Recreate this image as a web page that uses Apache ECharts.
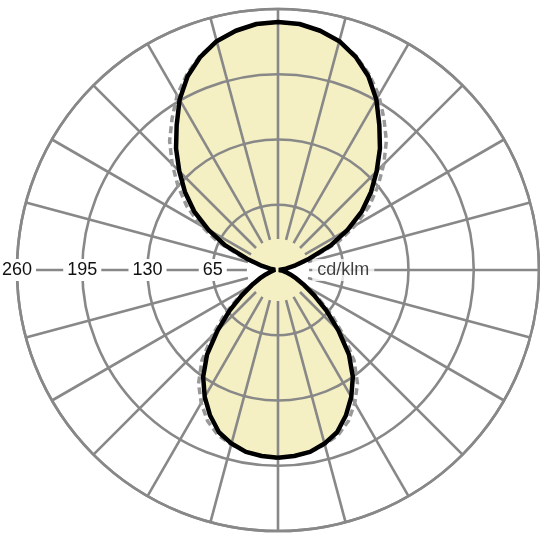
<!DOCTYPE html>
<html>
<head>
<meta charset="utf-8">
<script src="https://cdn.jsdelivr.net/npm/echarts@6/dist/echarts.min.js"></script>
<style>
  html, body { margin: 0; padding: 0; background: #fff; }
  #chart { width: 540px; height: 540px; }
</style>
</head>
<body>
<div id="chart"></div>
<script>
// gamma angles 0..180 step 5 (0 = straight down, 180 = straight up)
const gammas = [0, 5, 10, 15, 20, 25, 30, 35, 40, 45, 50, 55, 60, 65, 70, 75, 80, 85, 90,
  95, 100, 105, 110, 115, 120, 125, 130, 135, 140, 145, 150, 155, 160, 165, 170, 175, 180];

// C0-C180 plane, cd/klm
const c0 = [187, 186, 184, 179, 172, 160, 146, 130, 110, 85, 63, 44, 30, 20, 13, 8, 5, 3, 1,
  3, 8, 18, 33, 58, 80, 102, 121, 139, 158, 176, 196, 213, 226, 236, 242, 246, 247];

// C90-C270 plane, cd/klm
const c90 = [187, 186, 184, 180, 175, 166, 153, 138, 118, 93, 70, 49, 33, 22, 14, 8, 5, 3, 1,
  3, 8, 20, 38, 66, 89, 111, 130, 149, 168, 184, 201, 215, 227, 236, 242, 246, 247];

// radial grid
const radiusTicks = [0, 65, 130, 195, 260];
const spokeAngles = [0, 15, 30, 45, 60, 75, 90, 105, 120, 135, 150, 165,
  180, 195, 210, 225, 240, 255, 270, 285, 300, 315, 330, 345];
const spokeFrom = 31;
const unitLabel = 'cd/klm';

const grey = '#888888';
const font = 'Liberation Sans, Arial, sans-serif';

// angle axis starts at the left and runs clockwise: 90 = up, 270 = down
const toPath = (vals) => {
  const right = gammas.map((g, i) => [vals[i], 270 - g]);
  const left = gammas.map((g, i) => [vals[i], (270 + g) % 360]).reverse();
  return right.concat(left);
};

const spokes = spokeAngles.map((a) => ({
  type: 'line',
  coordinateSystem: 'polar',
  z: 0,
  silent: true,
  symbol: 'none',
  lineStyle: { color: grey, width: 2.6 },
  data: [[spokeFrom, a], [radiusTicks[radiusTicks.length - 1], a]]
}));

const chart = echarts.init(document.getElementById('chart'));
chart.setOption({
  animation: false,
  polar: { center: [278, 270], radius: 261 },
  angleAxis: {
    type: 'value', min: 0, max: 360, startAngle: 180, clockwise: true, z: 1,
    axisLine: { show: true, lineStyle: { color: grey, width: 2.6 } },
    axisTick: { show: false },
    axisLabel: { show: false },
    splitLine: { show: false }
  },
  radiusAxis: {
    type: 'value', min: radiusTicks[0], max: radiusTicks[radiusTicks.length - 1], interval: 65, z: 1,
    axisLine: { show: false },
    axisTick: { show: false },
    splitLine: { show: true, lineStyle: { color: grey, width: 2.6 } },
    axisLabel: {
      showMinLabel: false,
      margin: 0,
      align: 'center',
      verticalAlign: 'middle',
      color: '#111',
      fontSize: 18,
      fontFamily: font,
      backgroundColor: '#fff',
      padding: [2, 4]
    }
  },
  series: [
    {
      // fill under the grid
      type: 'line', coordinateSystem: 'polar', z: -1, silent: true,
      symbol: 'none', data: toPath(c0),
      lineStyle: { width: 0 },
      areaStyle: { color: '#f5f0c3', opacity: 1 }
    },
    ...spokes,
    {
      // unit text on the right arm
      type: 'scatter', coordinateSystem: 'polar', z: 2, symbolSize: 0,
      data: [[65, 180]],
      label: {
        show: true, position: 'inside', formatter: unitLabel,
        color: '#111', fontSize: 18, fontFamily: font,
        backgroundColor: '#fff', padding: [2, 5]
      }
    },
    {
      name: 'C90-C270', type: 'line', coordinateSystem: 'polar', z: 3, silent: true,
      symbol: 'none', data: toPath(c90),
      lineStyle: { color: '#999999', width: 3.5, type: [7, 4] }
    },
    {
      name: 'C0-C180', type: 'line', coordinateSystem: 'polar', z: 4, silent: true,
      symbol: 'none', data: toPath(c0),
      lineStyle: { color: '#000', width: 4.5 }
    }
  ]
});
</script>
</body>
</html>
